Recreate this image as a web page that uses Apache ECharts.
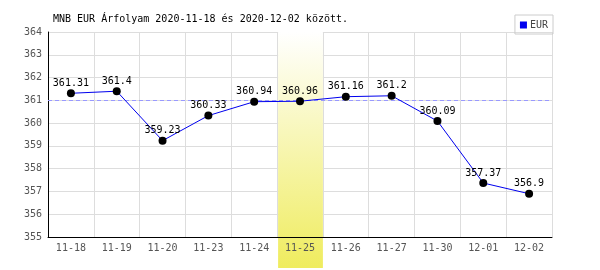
<!DOCTYPE html>
<html><head><meta charset="utf-8">
<script src="https://cdn.jsdelivr.net/npm/echarts@6/dist/echarts.min.js"></script>
<style>html,body{margin:0;padding:0;background:#fff}#c{width:600px;height:270px}</style>
</head><body><div id="c"></div>
<script>
const categories = ['11-18','11-19','11-20','11-23','11-24','11-25','11-26','11-27','11-30','12-01','12-02'];
const eurValues = [361.31,361.4,359.23,360.33,360.94,360.96,361.16,361.2,360.09,357.37,356.9];
const refLineValue = 361;
const highlightCategory = '11-25';
const titleText = 'MNB EUR Árfolyam 2020-11-18 és 2020-12-02 között.';
const mono = '"DejaVu Sans Mono", "Liberation Mono", monospace';

const chart = echarts.init(document.getElementById('c'), null, {renderer:'canvas'});
const option = {
  animation: false,
  backgroundColor: '#fff',
  title: { text: titleText, left: 53, top: 14, padding: 0, textStyle: { fontFamily: mono, fontSize: 10, fontWeight: 'normal', color: '#000' } },
  legend: {
    right: 47, top: 15, itemWidth: 7, itemHeight: 7, itemGap: 4,
    icon: 'rect', borderColor: '#ccc', borderWidth: 1, padding: [5, 5, 4, 5],
    data: [{ name: 'EUR', itemStyle: { color: '#0000ee' } }],
    textStyle: { fontFamily: mono, fontSize: 10, color: '#444', padding: [0,0,0,-2] }
  },
  grid: { left: 48, right: 48, top: 32, bottom: 33 },
  xAxis: [{
    type: 'category', data: categories, boundaryGap: true, z: 0,
    axisLine: { show: false }, axisTick: { show: false }, axisLabel: { show: false },
    splitLine: { show: true, lineStyle: { color: '#ddd', width: 1 } }
  }, {
    type: 'category', data: categories, boundaryGap: true, position: 'bottom', z: 3,
    axisLine: { show: true, onZero: false, lineStyle: { color: '#000', width: 1 } },
    axisTick: { show: false },
    axisLabel: { fontFamily: mono, fontSize: 10, color: '#555', margin: 6 },
    splitLine: { show: false }
  }],
  yAxis: {
    type: 'value', min: 355, max: 364, interval: 1,
    axisLine: { show: true, lineStyle: { color: '#000', width: 1 } },
    axisTick: { show: false },
    axisLabel: { fontFamily: mono, fontSize: 10, color: '#555', margin: 6 },
    splitLine: { show: true, lineStyle: { color: '#ddd', width: 1 } }
  },
  series: [{
    name: 'EUR', type: 'line', data: eurValues, z: 5, xAxisIndex: 0,
    lineStyle: { color: '#0000ee', width: 1 },
    itemStyle: { color: '#000' },
    symbol: 'circle', symbolSize: 8,
    label: { show: true, position: 'top', distance: 1, fontFamily: mono, fontSize: 10, color: '#000' },
    markLine: {
      silent: true, symbol: 'none', label: { show: false },
      lineStyle: { color: '#9999ff', type: [4, 3], width: 1 },
      data: [{ yAxis: refLineValue }]
    }
  }]
};
chart.setOption(option);

// highlight band extending below the axis, positioned via the library's scale
const idx = categories.indexOf(highlightCategory);
const cx = chart.convertToPixel({xAxisIndex:0}, idx);
const cw = chart.convertToPixel({xAxisIndex:0}, 1) - chart.convertToPixel({xAxisIndex:0}, 0);
const yTop = chart.convertToPixel({yAxisIndex:0}, 364);
chart.setOption({
  graphic: [{
    type: 'rect', z: 1, silent: true,
    shape: { x: cx - cw/2 + 1, y: yTop, width: cw - 1, height: 268 - yTop },
    style: { fill: new echarts.graphic.LinearGradient(0,0,0,1,[{offset:0,color:'#ffffff'},{offset:1,color:'#efec5e'}]) }
  }]
});
</script></body></html>
